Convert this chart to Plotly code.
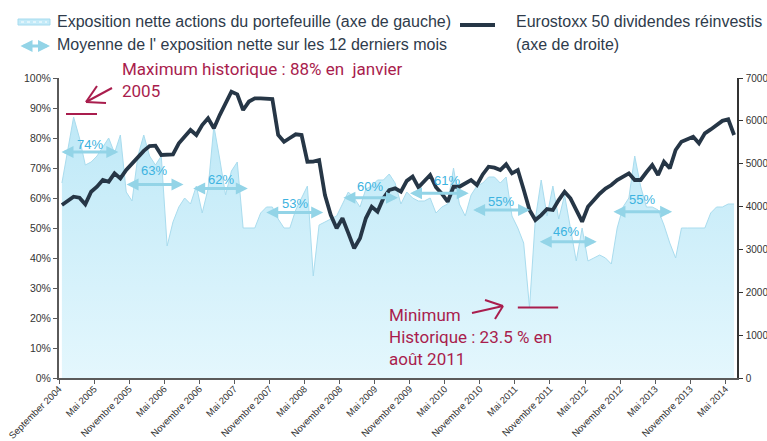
import plotly.graph_objects as go

# ---------------- data ----------------
month_index = list(range(116))  # monthly points, Sept 2004 onwards

tick_labels = ["September 2004", "Mai 2005", "Novembre 2005", "Mai 2006", "Novembre 2006",
               "Mai 2007", "Novembre 2007", "Mai 2008", "Novembre 2008", "Mai 2009",
               "Novembre 2009", "Mai 2010", "Novembre 2010", "Mai 2011", "Novembre 2011",
               "Mai 2012", "Novembre 2012", "Mai 2013", "Novembre 2013", "Mai 2014"]

exposition = [65, 76, 87, 80, 71, 72, 74, 77, 80, 75,
              81, 62, 59, 74, 81, 74, 71, 74, 44, 52,
              57, 60, 58, 64, 55, 63, 84, 73, 61, 69,
              72, 50, 50, 50, 55, 57, 57, 53, 50, 50,
              56, 60, 64, 34, 51, 52, 53, 54, 58, 62,
              60, 57, 63, 64, 66, 66, 68, 65, 58, 62,
              60, 59, 59, 60, 55, 57, 58, 70, 58, 54,
              61, 64, 65, 67, 67, 65, 67, 54, 50, 45,
              23.5, 53, 66, 54, 64, 53, 61, 50, 39, 50,
              39, 40, 41, 40, 38, 50, 57, 60, 74, 64,
              57, 57, 56, 51, 45, 40, 50, 50, 50, 50,
              50, 55, 57, 57, 58, 58]

eurostoxx = [4037, 4140, 4230, 4207, 4052, 4347, 4463, 4620, 4580, 4776,
             4659, 4853, 5009, 5150, 5300, 5413, 5420, 5203, 5210, 5219,
             5476, 5631, 5786, 5670, 5903, 6059, 5826, 6136, 6409, 6680,
             6620, 6253, 6450, 6525, 6525, 6520, 6510, 5670, 5513, 5600,
             5686, 5670, 5047, 5050, 5086, 4270, 3800, 3493, 3726, 3380,
             3026, 3259, 3726, 3996, 3880, 4193, 4386, 4426, 4347, 4600,
             4700, 4450, 4600, 4736, 4450, 4300, 4113, 4463, 4463, 4540,
             4620, 4503, 4750, 4930, 4907, 4853, 4986, 4776, 4853, 4400,
             3920, 3686, 3800, 3943, 3920, 4150, 4347, 4193, 3900, 3647,
             3996, 4153, 4300, 4420, 4503, 4620, 4700, 4776, 4620, 4620,
             4800, 4970, 4736, 5047, 4893, 5320, 5513, 5580, 5631, 5476,
             5709, 5800, 5903, 6000, 6036, 5670]

# 12-month average exposure periods
avg_labels = ["74%", "63%", "62%", "53%", "60%", "61%", "55%", "46%", "55%"]
avg_start = [-0.33, 10.8, 22.2, 34.7, 47.9, 59.3, 70.1, 81.5, 94.1]
avg_end = [9.65, 20.8, 31.8, 44.7, 57.5, 69.6, 80.1, 91.5, 104.4]

max_value = 88
min_value = 23.5
max_text = "Maximum historique : 88% en  janvier<br>2005"
min_text = "Minimum<br>Historique : 23.5 % en<br>août 2011"

# ---------------- layout positions / styles ----------------
arrow_levels = [75.3, 64.5, 63.2, 55.2, 60.1, 61.6, 56.0, 45.4, 55.4]
label_levels = [77.7, 69.3, 66.3, 58.2, 63.8, 65.8, 58.8, 48.8, 59.6]
label_x = [4.8, 15.8, 27.3, 39.9, 52.7, 65.8, 75.1, 86.2, 99.2]

W, H = 767, 441
L, R, T, B = 59, 737, 78, 378


def px(x):
    return (x - L) / (R - L)


def py(y):
    return (B - y) / (B - T)


RED = "#a91d4d"
NAVY = "#263646"
ARROW = "#93d4e7"
LABEL_BLUE = "#3db3e0"
TEXT = "#2e3b4b"

fig = go.Figure()

fig.add_trace(go.Scatter(
    x=month_index, y=exposition, mode="lines", fill="tozeroy",
    line=dict(color="#a9dcee", width=1),
    fillgradient=dict(type="vertical", start=0, stop=90,
                      colorscale=[[0, "#e4f7fd"], [1, "#bde8f7"]]),
    showlegend=False, hoverinfo="skip"))

fig.add_trace(go.Scatter(
    x=month_index, y=eurostoxx, yaxis="y2", mode="lines",
    line=dict(color=NAVY, width=3.8),
    showlegend=False, hoverinfo="skip"))

annotations = []
shapes = []

# average arrows and labels
for s, e, lvl, lab, ly, lx in zip(avg_start, avg_end, arrow_levels, avg_labels, label_levels, label_x):
    annotations.append(dict(x=e, y=lvl, ax=s, ay=lvl, xref="x", yref="y", axref="x", ayref="y",
                            text="", showarrow=True, arrowhead=2, arrowsize=0.8, arrowwidth=3,
                            arrowside="end+start", arrowcolor=ARROW))
    annotations.append(dict(x=lx, y=ly, xref="x", yref="y", text=lab, showarrow=False,
                            font=dict(family="Liberation Sans", size=13, color=LABEL_BLUE)))

# red max / min marks
shapes.append(dict(type="line", xref="x", yref="y", x0=0.7, x1=6.0, y0=max_value, y1=max_value,
                   line=dict(color=RED, width=2)))
shapes.append(dict(type="line", xref="x", yref="y", x0=78.0, x1=84.9, y0=min_value, y1=min_value,
                   line=dict(color=RED, width=2)))


def red_arrow(tail, head, w1, w2):
    for a, b in [(tail, head), (head, w1), (head, w2)]:
        shapes.append(dict(type="line", xref="paper", yref="paper",
                           x0=px(a[0]), y0=py(a[1]), x1=px(b[0]), y1=py(b[1]),
                           line=dict(color=RED, width=2)))


red_arrow((112, 88), (86, 102), (106, 103), (97, 86))
red_arrow((472, 313), (503, 306), (485, 300), (495, 319))

annotations.append(dict(x=px(120), y=py(57), xref="paper", yref="paper", xanchor="left", yanchor="top",
                        text=max_text, showarrow=False, align="left",
                        font=dict(family="Roboto", size=17, color=RED)))
annotations.append(dict(x=px(387), y=py(303), xref="paper", yref="paper", xanchor="left", yanchor="top",
                        text=min_text, showarrow=False, align="left",
                        font=dict(family="Roboto", size=17, color=RED)))

# custom legend
shapes.append(dict(type="rect", xref="paper", yref="paper", x0=px(18), x1=px(50), y0=py(19), y1=py(25),
                   fillcolor="#c3eaf8", line=dict(color="#a6dbee", width=1)))
shapes.append(dict(type="line", xref="paper", yref="paper", x0=px(21), x1=px(47), y0=py(22), y1=py(22),
                   line=dict(color="white", width=1, dash="dot")))
annotations.append(dict(x=px(50), y=py(46), xref="paper", yref="paper", ax=-31, ay=0,
                        text="", showarrow=True, arrowhead=2, arrowsize=0.8, arrowwidth=3,
                        arrowside="end+start", arrowcolor=ARROW))
shapes.append(dict(type="line", xref="paper", yref="paper", x0=px(460), x1=px(495), y0=py(25), y1=py(25),
                   line=dict(color=NAVY, width=4)))

legend_font = dict(family="Liberation Sans", size=16, color=TEXT)
for txt, x, y in [("Exposition nette actions du portefeuille (axe de gauche)", 55, 22),
                  ("Moyenne de l' exposition nette sur les 12 derniers mois", 55, 45),
                  ("Eurostoxx 50 dividendes réinvestis", 514, 22),
                  ("(axe de droite)", 514, 45)]:
    annotations.append(dict(x=px(x), y=py(y), xref="paper", yref="paper", xanchor="left",
                            yanchor="middle", text=txt, showarrow=False, font=legend_font))

axis_color = "#5a5a5a"
tick_font = dict(family="Liberation Sans", size=10.5, color="#333333")
rtick_font = dict(family="Liberation Sans", size=10, color="#333333")
xtick_font = dict(family="Liberation Sans", size=9.5, color="#333333")

fig.update_layout(
    width=W, height=H, autosize=False,
    margin=dict(l=L, r=W - R, t=T, b=H - B, pad=0, autoexpand=False),
    paper_bgcolor="white", plot_bgcolor="white",
    showlegend=False,
    xaxis=dict(range=[-0.5, 115.5], tickmode="array", automargin=False,
               tickvals=[6 * k - 0.5 for k in range(len(tick_labels))],
               ticktext=tick_labels, tickangle=-45, showgrid=False, zeroline=False,
               ticklabelstandoff=-4,
               showline=True, linecolor=axis_color, linewidth=1.5,
               ticks="outside", ticklen=4, tickcolor=axis_color, tickfont=xtick_font),
    yaxis=dict(range=[0, 100], dtick=10, ticksuffix="%", showgrid=False, zeroline=False,
               automargin=False,
               showline=True, linecolor=axis_color, linewidth=2,
               ticks="outside", ticklen=4, tickcolor=axis_color, tickfont=tick_font),
    yaxis2=dict(range=[0, 7000], dtick=1000, overlaying="y", side="right", showgrid=False,
                automargin=False, ticklabelstandoff=1,
                zeroline=False, showline=True, linecolor="#333333", linewidth=1.5,
                ticks="outside", ticklen=4, tickcolor="#333333", tickfont=rtick_font),
    annotations=annotations, shapes=shapes,
)

fig.write_html("out.html")
